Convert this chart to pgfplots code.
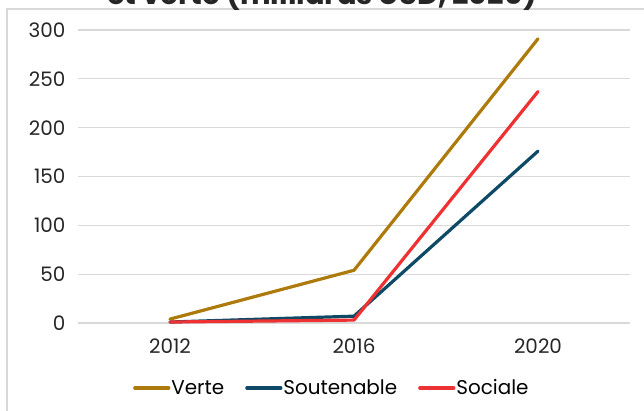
\documentclass[border=0pt]{standalone}
\usepackage{fontspec}
\setmainfont{Poppins}
\usepackage{pgfplots}
\pgfplotsset{compat=1.18}

\definecolor{verte}{HTML}{AD7A0C}
\definecolor{soutenable}{HTML}{0E4A66}
\definecolor{sociale}{HTML}{EE3233}
\definecolor{grille}{HTML}{D9D9D9}

\begin{document}
\begin{tikzpicture}[x=1bp,y=1bp]
\useasboundingbox (0,0) rectangle (644,410);
\clip (0,0) rectangle (644,410);
% frame of the chart area
\draw[grille, line width=1.2bp] (7,-10) rectangle (660,401);
% title, mostly cut off at the top
\node[anchor=base, font=\bfseries\fontsize{29}{34}\selectfont, text=black!85] at (322,405) {et verte (milliards USD, 2020)};
\begin{axis}[
  at={(78bp,87bp)}, anchor=south west,
  scale only axis,
  width=552bp, height=293bp,
  xmin=-0.5, xmax=2.5,
  ymin=0, ymax=300,
  xtick=data,
  xticklabels={2012,2016,2020},
  ytick={0,50,...,300},
  axis line style={draw=none},
  major tick length=0pt,
  ymajorgrids,
  grid style={grille, line width=1.1bp},
  tick label style={font=\fontsize{20}{24}\selectfont, text=black!85},
  /pgf/number format/assume math mode=true,
  yticklabel style={xshift=-9bp},
  xticklabel style={yshift=-12bp},
  clip=false,
  legend columns=3,
  legend style={draw=none, fill=none, at={(0.459,-0.222)}, anchor=center,
    font=\fontsize{20}{24}\selectfont, column sep=0bp,
    /tikz/every even column/.append style={column sep=20bp},
    nodes={inner xsep=1bp}},
  legend image code/.code={\draw[#1, line width=3.2bp, line cap=round] (0bp,0bp) -- (34bp,0bp);},
  every axis plot/.append style={line width=3.2bp, line cap=round, line join=round},
]
\addplot[verte] coordinates {(0,4) (1,54) (2,291)};
\addplot[soutenable] coordinates {(0,1) (1,7) (2,176)};
\addplot[sociale] coordinates {(0,1) (1,3) (2,237)};
\legend{Verte,Soutenable,Sociale}
\end{axis}
\end{tikzpicture}
\end{document}
